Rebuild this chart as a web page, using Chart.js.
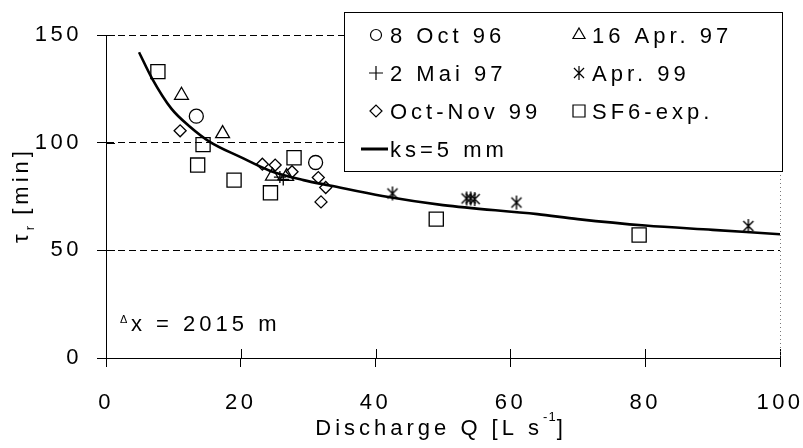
<!DOCTYPE html>
<html>
<head>
<meta charset="utf-8">
<script src="https://cdn.jsdelivr.net/npm/chart.js"></script>
<style>
  html, body { margin: 0; padding: 0; background: #fff; }
  #wrap { width: 803px; height: 448px; }
</style>
</head>
<body>
<div id="wrap"><canvas id="c" width="803" height="448"></canvas></div>
<script>
// residence time tau_r [min] against discharge Q [L/s]
const oct96Q = [13.4, 31.1];
const oct96T = [112.3, 90.8];
const apr97Q = [11.2, 17.3, 24.7, 26.8];
const apr97T = [122, 104.2, 84.5, 84.3];
const mai97Q = [25.8, 26.3];
const mai97T = [84, 82.9];
const apr99Q = [42.5, 53.5, 54.1, 54.7, 60.9, 95.3];
const apr99T = [76.4, 74.1, 74.1, 73.8, 72.2, 61.3];
const octNov99Q = [11.0, 23.2, 25.1, 27.6, 31.5, 32.6, 31.9];
const octNov99T = [105.5, 90, 89.6, 86.5, 83.8, 79.2, 72.5];
const sf6Q = [7.7, 14.4, 13.6, 19.0, 27.9, 24.4, 49.0, 79.1];
const sf6T = [133, 99.1, 89.6, 82.6, 93, 76.7, 64.5, 57.1];
// model curve ks = 5 mm
const ksQ = [4.9, 6.8, 9.7, 12.5, 15.4, 19.9, 24.3, 29.3, 33.2, 41, 50, 64, 70, 80, 90, 100];
const ksT = [142, 130, 115.8, 107.3, 100.4, 93.4, 87, 82.6, 80.1, 75.2, 71, 66.8, 64.5, 61.5, 59.5, 57.5];

const xTicks = [0, 20, 40, 60, 80, 100];
const yTicks = [0, 50, 100, 150];

const FONT = '"Liberation Sans", Arial, sans-serif';

const pts = (xs, ys) => xs.map((x, i) => ({ x: x, y: ys[i] }));

function drawMark(g, style, x, y, r) {
  g.beginPath();
  switch (style) {
    case 'circle':
      g.arc(x, y, r, 0, Math.PI * 2);
      break;
    case 'triangle':
      g.moveTo(x, y - r);
      g.lineTo(x + r * 0.866, y + r * 0.5);
      g.lineTo(x - r * 0.866, y + r * 0.5);
      g.closePath();
      break;
    case 'cross':
      g.moveTo(x - r, y); g.lineTo(x + r, y);
      g.moveTo(x, y - r); g.lineTo(x, y + r);
      break;
    case 'star': {
      const d = r * 0.72;
      g.moveTo(x, y - r); g.lineTo(x, y + r);
      g.moveTo(x - d, y - d); g.lineTo(x + d, y + d);
      g.moveTo(x - d, y + d); g.lineTo(x + d, y - d);
      break;
    }
    case 'rectRot':
      g.moveTo(x - r, y); g.lineTo(x, y - r); g.lineTo(x + r, y); g.lineTo(x, y + r);
      g.closePath();
      break;
    case 'rect':
      g.rect(x - r, y - r, 2 * r, 2 * r);
      break;
  }
  g.stroke();
}

// 6-armed asterisk used for Apr. 99
function starCanvas(r) {
  const c = document.createElement('canvas');
  const s = Math.ceil(2 * r + 4);
  c.width = s; c.height = s;
  const g = c.getContext('2d');
  g.strokeStyle = '#000';
  g.lineWidth = 1.4;
  drawMark(g, 'star', s / 2, s / 2, r);
  return c;
}

function markSet(label, xs, ys, style, r) {
  return {
    label: label,
    data: pts(xs, ys),
    pointStyle: style,
    pointRadius: r,
    pointHoverRadius: r,
    pointBorderWidth: 1.3,
    borderColor: '#000',
    backgroundColor: 'rgba(0,0,0,0)',
    showLine: false
  };
}

const legendItems = [
  { label: '8 Oct 96', style: 'circle', r: 5.5, col: 0, row: 0 },
  { label: '16 Apr. 97', style: 'triangle', r: 7, col: 1, row: 0 },
  { label: '2 Mai 97', style: 'cross', r: 7, col: 0, row: 1 },
  { label: 'Apr. 99', style: 'star', r: 7, col: 1, row: 1 },
  { label: 'Oct-Nov 99', style: 'rectRot', r: 6, col: 0, row: 2 },
  { label: 'SF6-exp.', style: 'rect', r: 6, col: 1, row: 2 },
  { label: 'ks=5 mm', style: 'line', col: 0, row: 3 }
];

const spacing = {
  id: 'spacing',
  beforeLayout(chart) { chart.ctx.letterSpacing = '3.5px'; },
  beforeDraw(chart) { chart.ctx.letterSpacing = '3.5px'; }
};

const extras = {
  id: 'extras',
  afterDraw(chart) {
    const g = chart.ctx;
    const xs = chart.scales.x, ys = chart.scales.y;
    const a = chart.chartArea;
    g.save();
    g.strokeStyle = '#000';
    g.lineWidth = 1;

    // inward halves of the tick marks
    g.beginPath();
    xs.ticks.forEach(t => {
      const px = Math.round(xs.getPixelForValue(t.value)) + 0.5;
      g.moveTo(px, a.bottom); g.lineTo(px, a.bottom - 9);
    });
    ys.ticks.forEach(t => {
      const py = Math.round(ys.getPixelForValue(t.value)) + 0.5;
      g.moveTo(a.left, py); g.lineTo(a.left + 9, py);
    });
    g.stroke();

    // dotted right frame
    g.strokeStyle = '#777';
    g.setLineDash([1, 3]);
    g.beginPath();
    g.moveTo(a.right + 0.5, a.top); g.lineTo(a.right + 0.5, a.bottom);
    g.stroke();
    g.setLineDash([]);

    // legend box
    const bx = 344, by = 12, bw = 439, bh = 160;
    g.fillStyle = '#fff';
    g.fillRect(bx, by, bw, bh);
    g.strokeStyle = '#000';
    g.strokeRect(bx + 0.5, by + 0.5, bw - 1, bh - 1);

    g.font = '22px ' + FONT;
    g.fillStyle = '#000';
    g.textBaseline = 'alphabetic';
    g.textAlign = 'left';
    g.letterSpacing = '4px';
    const colMark = [376, 579], colText = [390, 592];
    legendItems.forEach(it => {
      const cy = 35 + it.row * 38;
      if (it.style === 'line') {
        g.lineWidth = 3;
        g.beginPath(); g.moveTo(361, cy); g.lineTo(388, cy); g.stroke();
      } else {
        g.lineWidth = 1.2;
        drawMark(g, it.style, colMark[it.col], cy, it.r);
      }
      g.fillText(it.label, colText[it.col], cy + 8);
    });

    // delta x annotation
    g.letterSpacing = '0px';
    g.font = '11px ' + FONT;
    g.fillText('\u0394', 120, 323);
    g.letterSpacing = '4px';
    g.font = '22px ' + FONT;
    g.fillText('x = 2015 m', 131, 331);

    // x axis title with superscript
    const t1 = 'Discharge Q [L s', t2 = '-1', t3 = ']';
    g.font = '22px ' + FONT;
    const w1 = g.measureText(t1).width;
    const w3 = g.measureText(t3).width;
    g.font = '13px ' + FONT;
    g.letterSpacing = '1px';
    const w2 = g.measureText(t2).width;
    let x0 = 441 - (w1 + w2 + w3) / 2;
    g.letterSpacing = '4px';
    g.font = '22px ' + FONT;
    g.fillText(t1, x0, 435);
    g.letterSpacing = '1px';
    g.font = '13px ' + FONT;
    g.fillText(t2, x0 + w1, 421);
    g.letterSpacing = '4px';
    g.font = '22px ' + FONT;
    g.fillText(t3, x0 + w1 + w2, 435);

    // y axis title, rotated, with subscript r
    g.save();
    g.translate(28, 195);
    g.rotate(-Math.PI / 2);
    const s1 = '\u03C4', s2 = 'r', s3 = ' [min]';
    g.font = '22px ' + FONT;
    g.letterSpacing = '4px';
    const v1 = g.measureText(s1).width, v3 = g.measureText(s3).width;
    g.font = '13px ' + FONT;
    g.letterSpacing = '1px';
    const v2 = g.measureText(s2).width;
    let y0 = -(v1 + v2 + v3) / 2;
    g.font = '22px ' + FONT;
    g.letterSpacing = '4px';
    g.fillText(s1, y0, 0);
    g.font = '13px ' + FONT;
    g.letterSpacing = '1px';
    g.fillText(s2, y0 + v1, 6);
    g.font = '22px ' + FONT;
    g.letterSpacing = '4px';
    g.fillText(s3, y0 + v1 + v2, 0);
    g.restore();

    g.restore();
  }
};

new Chart(document.getElementById('c'), {
  type: 'scatter',
  data: {
    datasets: [
      {
        label: 'ks=5 mm',
        data: pts(ksQ, ksT),
        showLine: true,
        borderColor: '#000',
        borderWidth: 2.6,
        pointRadius: 0,
        pointHoverRadius: 0,
        cubicInterpolationMode: 'monotone',
        fill: false
      },
      markSet('8 Oct 96', oct96Q, oct96T, 'circle', 7),
      markSet('16 Apr. 97', apr97Q, apr97T, 'triangle', 8),
      markSet('2 Mai 97', mai97Q, mai97T, 'cross', 6),
      markSet('Apr. 99', apr99Q, apr99T, starCanvas(7), 7),
      markSet('Oct-Nov 99', octNov99Q, octNov99T, 'rectRot', 6),
      markSet('SF6-exp.', sf6Q, sf6T, 'rect', 10)
    ]
  },
  options: {
    responsive: false,
    animation: false,
    events: [],
    layout: { padding: { top: 35, right: 0, left: 0, bottom: 0 } },
    plugins: {
      legend: { display: false },
      tooltip: { enabled: false }
    },
    scales: {
      x: {
        type: 'linear',
        min: 0,
        max: 100,
        afterBuildTicks: s => { s.ticks = xTicks.map(v => ({ value: v })); },
        afterFit: s => { s.height = 90; s.paddingRight = 23; s.paddingLeft = 0; },
        grid: { drawOnChartArea: false, tickLength: 9, tickColor: '#000', tickWidth: 1 },
        border: { color: '#000', width: 1 },
        ticks: { color: '#000', padding: 23, maxRotation: 0, font: { family: FONT, size: 22 } }
      },
      y: {
        type: 'linear',
        min: 0,
        max: 150,
        afterBuildTicks: s => { s.ticks = yTicks.map(v => ({ value: v })); },
        afterFit: s => { s.width = 106; },
        grid: { color: '#000', lineWidth: 1, tickLength: 9, tickColor: '#000', tickWidth: 1 },
        border: { color: '#000', width: 1, dash: [7, 4] },
        ticks: { color: '#000', padding: 15, font: { family: FONT, size: 22 } }
      }
    }
  },
  plugins: [spacing, extras]
});
</script>
</body>
</html>
